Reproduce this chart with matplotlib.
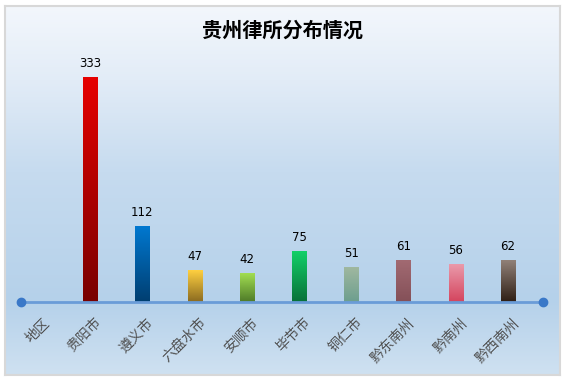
import numpy as np
import matplotlib.pyplot as plt
from matplotlib.colors import LinearSegmentedColormap, to_rgb

plt.rcParams['font.family'] = ['Noto Sans CJK SC', 'DejaVu Sans']

# data
regions = ['地区', '贵阳市', '遵义市', '六盘水市', '安顺市', '毕节市', '铜仁市', '黔东南州', '黔南州', '黔西南州']
counts = [None, 333, 112, 47, 42, 75, 51, 61, 56, 62]
top_colors = [None, '#e60000', '#0078d0', '#ffd040', '#a2de52', '#12d068', '#a0b8a0', '#a26a72', '#ea9aaa', '#918178']
bottom_colors = [None, '#780000', '#003e70', '#8a6a20', '#4e7a28', '#087038', '#6c9e8e', '#845058', '#d4445e', '#2e1e14']
title = '贵州律所分布情况'

W, H = 567, 381
fig = plt.figure(figsize=(W / 100, H / 100), dpi=100)

# background panel with vertical gradient
bg = fig.add_axes([5 / W, 6 / H, 555 / W, 369 / H])
bg_cmap = LinearSegmentedColormap.from_list('bg', [
    (0.0, '#f3f7fc'), (0.2, '#e2ecf7'), (0.45, '#c6dbef'),
    (0.8, '#b5d1ea'), (1.0, '#cfe1f1')])
grad = np.linspace(0, 1, 256).reshape(-1, 1)
bg.imshow(grad, cmap=bg_cmap, aspect='auto', extent=[0, 1, 0, 1], origin='upper')
bg.set_xlim(0, 1)
bg.set_ylim(0, 1)
bg.set_xticks([])
bg.set_yticks([])
for s in bg.spines.values():
    s.set_color('#d8d8d8')
    s.set_linewidth(1.5)

bg.text(0.5, (H - 30 - 6) / 369, title, ha='center', va='center',
        fontsize=14.5, fontweight='bold', color='#000000', transform=bg.transAxes)

# data axes
px_per_unit = 52.2
ax_left = 38 - 0.5 * px_per_unit
ax_w = 10 * px_per_unit
ymax = 360
ax_h = 225 / 333 * ymax
ax = fig.add_axes([ax_left / W, 79 / H, ax_w / W, ax_h / H])
ax.patch.set_alpha(0)
for s in ax.spines.values():
    s.set_visible(False)
ax.set_xticks([])
ax.set_yticks([])

bar_w = 0.27
x = np.arange(len(regions))
for i, (v, c0, c1) in enumerate(zip(counts, top_colors, bottom_colors)):
    if v is None:
        continue
    cmap = LinearSegmentedColormap.from_list('b%d' % i, [to_rgb(c0), to_rgb(c1)])
    ax.imshow(grad, cmap=cmap, aspect='auto', origin='upper',
              extent=[x[i] - bar_w / 2, x[i] + bar_w / 2, 0, v], zorder=2)
    ax.text(x[i], v + 11, str(v), ha='center', va='bottom', fontsize=8.5,
            color='#000000', family='DejaVu Sans')

# baseline with end dots
ax.plot([-0.33, 9.67], [0, 0], color='#6a9cd8', lw=2, zorder=3, clip_on=False,
        solid_capstyle='butt')
ax.plot([-0.33, 9.67], [0, 0], 'o', color='#3a78c8', ms=6, zorder=4, clip_on=False)

# rotated category labels
for i, name in enumerate(regions):
    ax.text(x[i] + 0.08, -20, name, rotation=45, rotation_mode='anchor',
            ha='right', va='top', fontsize=10, color='#505050')

ax.set_xlim(-0.5, 9.5)
ax.set_ylim(0, ymax)

fig.savefig('out.png', dpi=100)
